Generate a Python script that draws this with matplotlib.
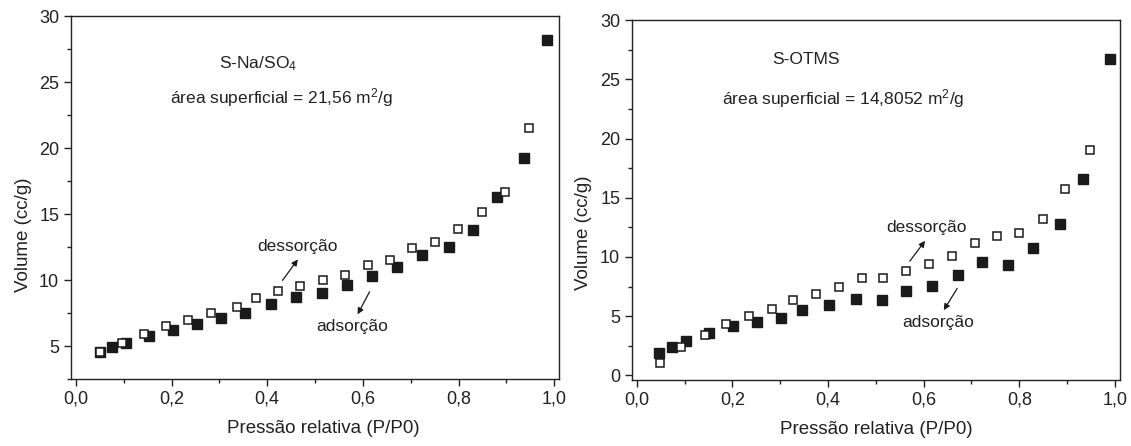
import numpy as np
import matplotlib
matplotlib.use('Agg')
import matplotlib.pyplot as plt
from matplotlib.ticker import MultipleLocator, FuncFormatter

plt.rcParams['font.family'] = ['Liberation Sans', 'DejaVu Sans']
plt.rcParams['mathtext.fontset'] = 'custom'
plt.rcParams['mathtext.rm'] = 'Liberation Sans'
plt.rcParams['mathtext.it'] = 'Liberation Sans:italic'
plt.rcParams['mathtext.bf'] = 'Liberation Sans:bold'

# S-Na/SO4 (left)
na_ads_x = [0.050, 0.075, 0.104, 0.153, 0.204, 0.253, 0.304, 0.353, 0.407, 0.460, 0.515,
            0.566, 0.620, 0.671, 0.724, 0.780, 0.831, 0.881, 0.936, 0.985]
na_ads_y = [4.55, 4.93, 5.20, 5.73, 6.21, 6.64, 7.12, 7.52, 8.15, 8.68, 8.98,
            9.61, 10.34, 10.95, 11.88, 12.48, 13.77, 16.26, 19.21, 28.16]
na_des_x = [0.050, 0.097, 0.143, 0.189, 0.235, 0.283, 0.337, 0.376, 0.423, 0.469, 0.516,
            0.563, 0.611, 0.656, 0.703, 0.751, 0.798, 0.849, 0.898, 0.947]
na_des_y = [4.52, 5.23, 5.94, 6.49, 6.97, 7.50, 7.98, 8.63, 9.16, 9.51, 9.99,
            10.40, 11.12, 11.55, 12.44, 12.86, 13.84, 15.13, 16.64, 21.53]

# S-OTMS (right)
ot_ads_x = [0.047, 0.074, 0.103, 0.152, 0.202, 0.252, 0.302, 0.345, 0.403, 0.458, 0.512,
            0.564, 0.617, 0.672, 0.723, 0.777, 0.829, 0.886, 0.934, 0.990]
ot_ads_y = [1.89, 2.39, 2.88, 3.58, 4.15, 4.51, 4.85, 5.50, 5.92, 6.43, 6.32,
            7.13, 7.55, 8.46, 9.59, 9.33, 10.77, 12.78, 16.55, 26.73]
ot_des_x = [0.049, 0.093, 0.143, 0.187, 0.234, 0.282, 0.327, 0.375, 0.422, 0.472, 0.516,
            0.564, 0.612, 0.660, 0.707, 0.753, 0.800, 0.850, 0.895, 0.948]
ot_des_y = [1.02, 2.37, 3.41, 4.37, 5.02, 5.61, 6.37, 6.85, 7.44, 8.23, 8.21,
            8.80, 9.42, 10.09, 11.14, 11.76, 12.04, 13.22, 15.74, 19.04]

dark = '#1a1a1a'
comma = FuncFormatter(lambda v, p: ('%.1f' % v).replace('.', ','))

fig = plt.figure(figsize=(11.31, 4.46), dpi=100)
ax1 = fig.add_axes([0.0628, 0.1502, 0.4315, 0.8139])
ax2 = fig.add_axes([0.5588, 0.1480, 0.4312, 0.8065])

def style(ax, ylim, pts, labpos):
    ax.plot(*pts[0], 's', color=dark, ms=7, mec=dark, zorder=2)
    ax.plot(*pts[1], 's', mfc='white', mec=dark, ms=6, mew=1.1, zorder=3)
    ax.set_xlim(-0.01, 1.01)
    ax.set_ylim(*ylim)
    ax.xaxis.set_major_locator(MultipleLocator(0.2))
    ax.xaxis.set_minor_locator(MultipleLocator(0.1))
    ax.yaxis.set_major_locator(MultipleLocator(5))
    ax.yaxis.set_minor_locator(MultipleLocator(2.5))
    ax.xaxis.set_major_formatter(comma)
    ax.tick_params(which='both', direction='out', labelsize=13, colors='#222222', width=1)
    ax.tick_params(which='major', length=5)
    ax.tick_params(which='minor', length=3)
    for s in ax.spines.values():
        s.set_color('#222222'); s.set_linewidth(1.0)
    ax.set_xlabel('Pressão relativa (P/P0)', fontsize=13.5, color='#222222')
    ax.set_ylabel('Volume (cc/g)', fontsize=13.5, color='#222222')
    ax.xaxis.set_label_coords(*labpos[0])
    ax.yaxis.set_label_coords(*labpos[1])

style(ax1, (2.5, 30), [(na_ads_x, na_ads_y), (na_des_x, na_des_y)],
      [(0.516, -0.113), (-0.08, 0.397)])
style(ax2, (-0.4, 30), [(ot_ads_x, ot_ads_y), (ot_des_x, ot_des_y)],
      [(0.50, -0.114), (-0.082, 0.409)])

tk = dict(fontsize=12.5, color='#222222')
arr = dict(arrowstyle='-|>', color=dark, lw=0.9, mutation_scale=9, shrinkA=0, shrinkB=0)

ax1.text(0.30, 26.4, 'S-Na/SO$_4$', ha='left', va='center', **tk)
ax1.text(0.196, 23.8, 'área superficial = 21,56 m$^2$/g', ha='left', va='center', **tk)
ax1.text(0.463, 12.56, 'dessorção', ha='center', va='center', **tk)
ax1.annotate('', xy=(0.464, 11.56), xytext=(0.432, 9.97), arrowprops=arr)
ax1.text(0.577, 6.51, 'adsorção', ha='center', va='center', **tk)
ax1.annotate('', xy=(0.589, 7.40), xytext=(0.614, 9.11), arrowprops=arr)

ax2.text(0.284, 26.65, 'S-OTMS', ha='left', va='center', **tk)
ax2.text(0.179, 23.4, 'área superficial = 14,8052 m$^2$/g', ha='left', va='center', **tk)
ax2.text(0.605, 12.46, 'dessorção', ha='center', va='center', **tk)
ax2.annotate('', xy=(0.603, 11.36), xytext=(0.571, 9.64), arrowprops=arr)
ax2.text(0.631, 4.42, 'adsorção', ha='center', va='center', **tk)
ax2.annotate('', xy=(0.642, 5.50), xytext=(0.670, 7.33), arrowprops=arr)

fig.savefig('out.png', dpi=100)
